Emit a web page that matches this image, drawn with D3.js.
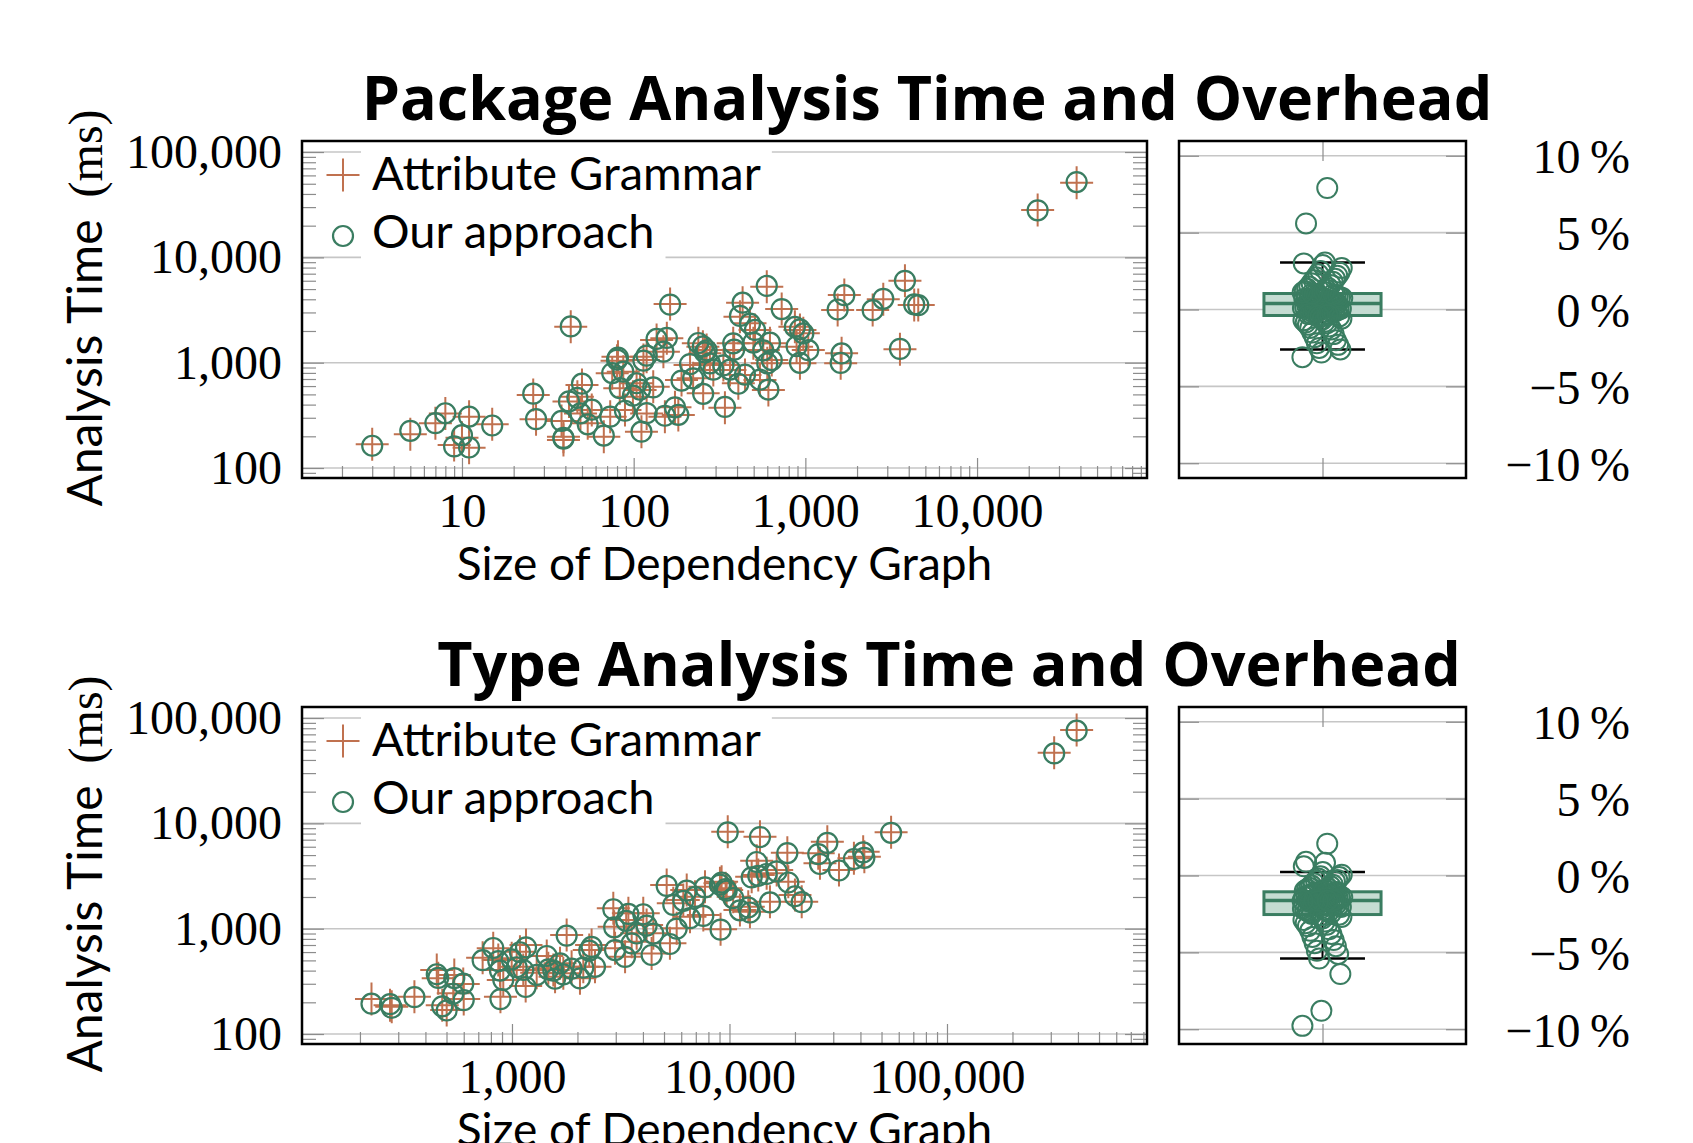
<!DOCTYPE html>
<html>
<head>
<meta charset="utf-8">
<script src="https://cdn.jsdelivr.net/npm/d3@7"></script>
<style>
  body { margin: 0; background: #fff; }
  svg { display: block; }
</style>
</head>
<body>
<div id="chart"></div>
<script>
// ---- data ----
const seriesNames = ['Attribute Grammar', 'Our approach'];
const titles = ['Package Analysis Time and Overhead', 'Type Analysis Time and Overhead'];
const xTitle = 'Size of Dependency Graph';
const timeTicks = [100, 1000, 10000, 100000];
const timeDomain = [80.4, 127300];
const overheadTicks = [-10, -5, 0, 5, 10];
const overheadDomain = [-10.96, 10.96];

const pkgSizeTicks = [10, 100, 1000, 10000];
const pkgSizeDomain = [1.17, 97700];
const pkgSize = [3, 5, 7, 8, 9, 10, 11, 11, 15, 26, 27, 43, 39, 39, 38, 42, 47, 50, 49, 57, 54, 67, 73,
  75, 81, 80, 87, 83, 89, 99, 104, 109, 114, 119, 111, 119, 130, 136, 149, 156, 163, 152, 174, 182, 190,
  213, 222, 238, 254, 260, 278, 291, 333, 340, 380, 385, 407, 416, 431, 445, 476, 498, 509, 544, 569, 596,
  600, 609, 22540, 38020, 728, 253, 266, 622, 637, 364, 869, 930, 973, 889, 1040, 930, 1626, 1606, 1686,
  1542, 2466, 2843, 3802, 4305, 4545, 3556];
const pkgTime = [168, 209, 266, 330, 165, 194, 307, 156, 260, 493, 290, 2200, 198, 185, 279, 427, 475, 614,
  330, 356, 266, 198, 307, 793, 1140, 1045, 822, 571, 356, 475, 637, 551, 1061, 1140, 221, 330, 591, 1644,
  1271, 1706, 3605, 307, 377, 318, 685, 951, 711, 1528, 512, 1228, 986, 853, 951, 374, 1528, 1321, 637,
  2735, 3715, 764, 2366, 1528, 2047, 685, 1321, 5272, 986, 551, 28180, 51170, 3236, 1419, 1321, 1528, 1061,
  853, 2197, 2047, 1901, 1419, 1321, 986, 1228, 986, 4395, 3162, 3162, 4000, 6012, 3532, 3532, 1340];
// overhead of our approach relative to the attribute grammar, in percent
const pkgOverhead = [-3.1, 7.9, 0.38, 0.4, -2.8, 5.6, 0.33, 0.42, -2.6, 3.05, 0.3, 0.45, -2.5, 3.0, 0.25, 0.48,
  -2.3, 2.9, 0.22, 0.5, -2.2, 2.7, 0.2, 0.52, -2.0, 2.5, 0.15, 0.55, -1.8, 2.4, 0.12, 0.6, -1.6, 2.3, 0.1, 0.62,
  -1.5, 2.2, 0.08, 0.65, -1.3, 2.1, 0.05, 0.68, -1.2, 2.0, 0.02, 0.7, -1.1, 1.9, 0.0, 0.72, -1.0, 1.8, -0.05, 0.75,
  -0.9, 1.7, -0.08, 0.78, -0.85, 1.6, -0.1, 0.8, -0.8, 1.5, -0.15, 0.85, -0.7, 1.4, -0.18, 0.88, -0.65, 1.35,
  -0.2, 0.9, -0.6, 1.3, -0.25, 0.93, -0.5, 1.2, -0.28, 0.96, -0.45, 1.15, -0.3, 1.0, -0.4, 1.1, -0.35, 1.03];
// lower whisker, q1, median, q3, upper whisker (percent)
const pkgBox = [-2.6, -0.39, 0.39, 1.04, 3.06];

const typeSizeTicks = [1000, 10000, 100000];
const typeSizeDomain = [108.3, 830900];
const typeSize = [226, 275, 280, 356, 451, 458, 478, 501, 543, 597, 600, 537, 733, 820, 865, 881, 885, 912,
  997, 1088, 1160, 1127, 1156, 1051, 1299, 1445, 1469, 1549, 1578, 1663, 1722, 1784, 1880, 2054, 2128, 2266,
  2323, 2408, 2923, 2950, 2978, 3311, 3350, 3429, 3551, 3743, 4014, 4159, 4385, 4465, 5143, 5324, 5516, 5718,
  6133, 6359, 6583, 6940, 7580, 7716, 9040, 9100, 9706, 9817, 10400, 11170, 12200, 12650, 13340, 13810, 13560,
  14820, 16480, 18450, 18640, 15350, 20000, 21480, 25590, 26060, 28170, 31870, 37330, 41180, 41690, 55340,
  311000, 394500, 9200, 9600, 12420];
const typeTime = [215, 188, 182, 226, 405, 338, 188, 169, 363, 298, 215, 244, 531, 652, 505, 405, 226, 326,
  524, 605, 700, 405, 286, 436, 382, 551, 421, 405, 350, 469, 377, 871, 436, 338, 436, 628, 700, 436, 1563,
  1045, 652, 542, 1211, 1400, 753, 904, 1400, 1084, 583, 904, 2600, 726, 1742, 1008, 1875, 2333, 1300, 2014,
  1349, 2506, 2699, 986, 2333, 8337, 2014, 1507, 1618, 3118, 4425, 7482, 3236, 3357, 3605, 5272, 2793, 1803,
  2090, 1803, 5200, 4178, 6700, 3605, 4666, 5383, 4831, 8222, 46900, 77100, 2793, 2420, 1449];
const typeOverhead = [-9.78, 2.07, -2.5, -1.07, -8.8, 0.89, -2.45, -1.1, -6.41, 0.83, -2.4, -1.14, -5.4, 0.6,
  -2.35, -1.17, -5.1, 0.22, -2.3, -1.2, -4.9, 0.05, -2.25, -1.22, -4.6, -0.05, -2.22, -1.25, -4.4, -0.1, -2.2,
  -1.28, -4.2, -0.2, -2.15, -1.3, -4.0, -0.3, -2.1, -1.32, -3.8, -0.35, -2.05, -1.35, -3.6, -0.4, -2.0, -1.38,
  -3.5, -0.5, -1.95, -1.4, -3.3, -0.6, -1.9, -1.42, -3.2, -0.65, -1.85, -1.45, -3.1, -0.7, -1.8, -1.46, -3.0,
  -0.8, -1.78, -1.48, -2.9, -0.85, -1.75, -1.5, -2.8, -0.9, -1.74, -1.52, -2.7, -0.95, -1.72, -1.55, -2.6, -1.0,
  -1.7, -1.58, -2.55, -1.05, -1.68, -1.6, -1.66, -1.64, -1.62];
const typeBox = [-5.4, -2.54, -1.63, -1.06, 0.22];

// ---- drawing ----
const width = 1693, height = 1143;
const green = '#3a7d61', orange = '#c0714f', boxFill = '#c5dcd2';
const gridColor = '#c6c6c6', tickColor = '#8c8c8c';
const sans = 'Lato, "Open Sans", sans-serif';
const serif = '"Liberation Serif", "DejaVu Serif", serif';
const plus = 'M-16.5,0H16.5M0,-16.5V16.5';

const svg = d3.select('#chart').append('svg')
  .attr('width', width)
  .attr('height', height);
svg.append('rect').attr('width', width).attr('height', height).attr('fill', '#fff');

const isMajor = v => Math.abs(Math.log10(v) - Math.round(Math.log10(v))) < 1e-9;

function styleTicks(sel) {
  sel.select('.domain').remove();
  sel.selectAll('line').attr('stroke', tickColor).attr('stroke-width', 1.2);
  sel.selectAll('text').attr('fill', '#000').style('font-family', serif).style('font-size', '48px');
}

function drawPanel(p) {
  const g = svg.append('g').attr('transform', `translate(0,${p.offset})`);
  const L = 302, R = 1147, T = 141, B = 478;
  const BL = 1179, BR = 1466;

  const x = d3.scaleLog().domain(p.xDomain).range([L, R]);
  const y = d3.scaleLog().domain(timeDomain).range([B, T]);
  const bx = d3.scaleLinear().domain([-1, 1]).range([BL, BR]);
  const by = d3.scaleLinear().domain(overheadDomain).range([B, T]);

  // title
  g.append('text')
    .attr('x', p.titleX).attr('y', 120)
    .attr('text-anchor', 'middle')
    .style('font-family', '"Open Sans", "Noto Sans", sans-serif')
    .style('font-weight', 700)
    .style('font-size', '61px')
    .text(p.title);

  // grid
  g.append('g').selectAll('line').data(timeTicks).join('line')
    .attr('x1', L).attr('x2', R)
    .attr('y1', d => y(d)).attr('y2', d => y(d))
    .attr('stroke', gridColor).attr('stroke-width', 1.6);

  // x ticks
  const xMinor = x.ticks().filter(v => !isMajor(v));
  g.append('g').attr('transform', `translate(0,${B})`)
    .call(d3.axisBottom(x).tickValues(xMinor).tickSize(-12).tickFormat(''))
    .call(styleTicks);
  g.append('g').attr('transform', `translate(0,${B})`)
    .call(d3.axisBottom(x).tickValues(p.xTicks).tickSize(-20).tickPadding(15).tickFormat(d3.format(',')))
    .call(styleTicks);

  // y ticks both sides
  const yMinor = y.ticks().filter(v => !isMajor(v));
  g.append('g').attr('transform', `translate(${L},0)`)
    .call(d3.axisLeft(y).tickValues(yMinor).tickSize(-14).tickFormat(''))
    .call(styleTicks);
  g.append('g').attr('transform', `translate(${L},0)`)
    .call(d3.axisLeft(y).tickValues(timeTicks).tickSize(-22).tickPadding(20).tickFormat(d3.format(',')))
    .call(styleTicks);
  g.append('g').attr('transform', `translate(${R},0)`)
    .call(d3.axisRight(y).tickValues(yMinor).tickSize(-14).tickFormat(''))
    .call(styleTicks);
  g.append('g').attr('transform', `translate(${R},0)`)
    .call(d3.axisRight(y).tickValues(timeTicks).tickSize(-22).tickFormat(''))
    .call(styleTicks);

  // series
  g.append('g').selectAll('path').data(p.size).join('path')
    .attr('d', plus)
    .attr('transform', (d, i) => `translate(${x(d)},${y(p.time[i])})`)
    .attr('fill', 'none').attr('stroke', orange).attr('stroke-width', 2);
  g.append('g').selectAll('circle').data(p.size).join('circle')
    .attr('cx', d => x(d))
    .attr('cy', (d, i) => y(p.time[i] * (1 + (p.overhead[i] || 0) / 100)))
    .attr('r', 10)
    .attr('fill', 'none').attr('stroke', green).attr('stroke-width', 2.2);

  // legend
  const leg = g.append('g');
  const entries = [{y: 175, base: 190}, {y: 236, base: 248}];
  entries.forEach((e, i) => {
    const t = leg.append('text')
      .attr('x', 372).attr('y', e.base)
      .style('font-family', sans).style('font-size', '47px')
      .text(seriesNames[i]);
    const bb = t.node().getBBox();
    leg.insert('rect', 'text')
      .attr('x', bb.x - 11).attr('y', bb.y - 2)
      .attr('width', bb.width + 22).attr('height', bb.height + 4)
      .attr('fill', '#fff');
  });
  leg.append('path').attr('d', plus).attr('transform', `translate(343,${entries[0].y})`)
    .attr('stroke', orange).attr('stroke-width', 2);
  leg.append('circle').attr('cx', 343).attr('cy', entries[1].y).attr('r', 10)
    .attr('fill', 'none').attr('stroke', green).attr('stroke-width', 2.2);

  // axis titles
  g.append('text')
    .attr('x', (L + R) / 2).attr('y', 580)
    .attr('text-anchor', 'middle')
    .style('font-family', sans).style('font-size', '46px')
    .text(xTitle);
  const yt = g.append('text')
    .attr('transform', `translate(102,308) rotate(-90)`)
    .attr('text-anchor', 'middle')
    .style('font-size', '48px');
  yt.append('tspan').style('font-family', sans).text('Analysis Time');
  yt.append('tspan').attr('dx', 22).style('font-family', serif).text('(ms)');

  // ---- overhead box plot ----
  g.append('g').selectAll('line').data(overheadTicks).join('line')
    .attr('x1', BL).attr('x2', BR)
    .attr('y1', d => by(d)).attr('y2', d => by(d))
    .attr('stroke', gridColor).attr('stroke-width', 1.6);
  g.append('g').attr('transform', `translate(${BL},0)`)
    .call(d3.axisLeft(by).tickValues(overheadTicks).tickSize(-20).tickFormat(''))
    .call(styleTicks);
  g.append('g').attr('transform', `translate(${BR},0)`)
    .call(d3.axisRight(by).tickValues(overheadTicks).tickSize(-20).tickFormat(''))
    .call(styleTicks);
  g.append('g').attr('transform', `translate(0,${B})`)
    .call(d3.axisBottom(bx).tickValues([0]).tickSize(-20).tickFormat(''))
    .call(styleTicks);
  g.append('g').attr('transform', `translate(0,${T})`)
    .call(d3.axisTop(bx).tickValues([0]).tickSize(-20).tickFormat(''))
    .call(styleTicks);

  g.append('g').selectAll('text').data(overheadTicks).join('text')
    .attr('x', 1630).attr('y', d => by(d))
    .attr('dy', '0.36em')
    .attr('text-anchor', 'end')
    .style('font-family', serif).style('font-size', '48px')
    .text(d => (d < 0 ? '\u2212' + Math.abs(d) : d) + '\u2009%');

  const [lo, q1, med, q3, hi] = p.box;
  g.append('line')
    .attr('x1', bx(0)).attr('x2', bx(0)).attr('y1', by(lo)).attr('y2', by(hi))
    .attr('stroke', '#000').attr('stroke-width', 2);
  g.append('g').selectAll('line').data([lo, hi]).join('line')
    .attr('x1', bx(-0.296)).attr('x2', bx(0.296))
    .attr('y1', d => by(d)).attr('y2', d => by(d))
    .attr('stroke', '#000').attr('stroke-width', 2.5);
  g.append('rect')
    .attr('x', bx(-0.408)).attr('width', bx(0.408) - bx(-0.408))
    .attr('y', by(q3)).attr('height', by(q1) - by(q3))
    .attr('fill', boxFill).attr('stroke', green).attr('stroke-width', 3);
  g.append('line')
    .attr('x1', bx(-0.408)).attr('x2', bx(0.408)).attr('y1', by(med)).attr('y2', by(med))
    .attr('stroke', green).attr('stroke-width', 3.5);

  // jittered observations
  const jitter = i => ((i * 0.618034) % 1 - 0.5) * 0.28;
  g.append('g').selectAll('circle').data(p.overhead).join('circle')
    .attr('cx', (d, i) => bx(jitter(i)))
    .attr('cy', d => by(d))
    .attr('r', 10)
    .attr('fill', 'none').attr('stroke', green).attr('stroke-width', 2);

  // frames
  g.append('rect').attr('x', L).attr('y', T).attr('width', R - L).attr('height', B - T)
    .attr('fill', 'none').attr('stroke', '#000').attr('stroke-width', 2.5);
  g.append('rect').attr('x', BL).attr('y', T).attr('width', BR - BL).attr('height', B - T)
    .attr('fill', 'none').attr('stroke', '#000').attr('stroke-width', 2.5);
}

drawPanel({
  offset: 0, title: titles[0], titleX: 927,
  xDomain: pkgSizeDomain, xTicks: pkgSizeTicks,
  size: pkgSize, time: pkgTime, overhead: pkgOverhead, box: pkgBox
});
drawPanel({
  offset: 566, title: titles[1], titleX: 949,
  xDomain: typeSizeDomain, xTicks: typeSizeTicks,
  size: typeSize, time: typeTime, overhead: typeOverhead, box: typeBox
});
</script>
</body>
</html>
